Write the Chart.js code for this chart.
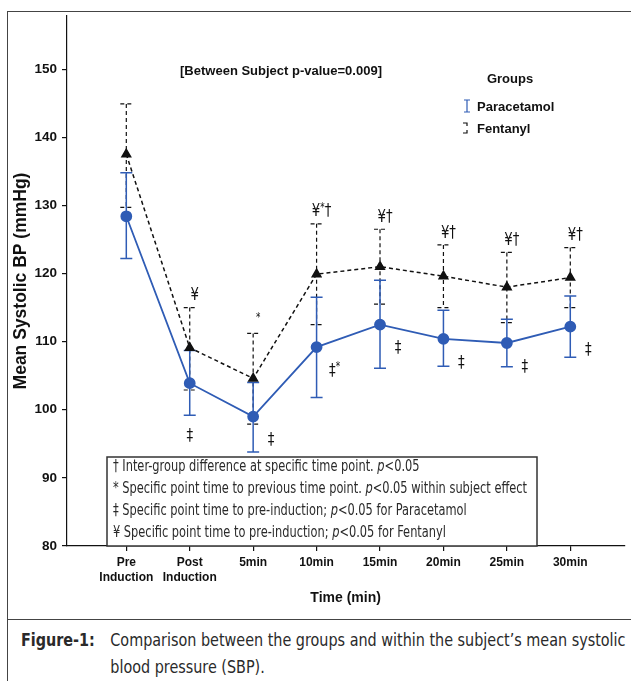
<!DOCTYPE html>
<html>
<head>
<meta charset="utf-8">
<script src="https://cdn.jsdelivr.net/npm/chart.js@4.4.0/dist/chart.umd.min.js"></script>
<style>
  body { margin: 0; background: #fff; }
  #wrap { position: relative; width: 631px; height: 681px; overflow: hidden; }
  #frame { position: absolute; left: 7px; top: 11px; width: 700px; height: 700px;
           border-left: 1.5px solid #444; border-top: 1.5px solid #444; }
  #capLine { position: absolute; left: 7px; top: 619px; width: 700px; border-top: 1.5px solid #444; }
  #chartBox { position: absolute; left: 0; top: 0; width: 631px; height: 620px; }
  #caption { position: absolute; left: 21px; top: 627px; display: flex; white-space: nowrap;
             transform: scaleX(0.94); transform-origin: left top;
             font: 17px 'DejaVu Sans Condensed', sans-serif; line-height: 27px; color: #2a2a2a; }
  #caption b { width: 95px; flex: none; }
</style>
</head>
<body>
<div id="wrap">
  <div id="frame"></div>
  <div id="capLine"></div>
  <div id="chartBox"><canvas id="sbpChart" width="631" height="620"></canvas></div>
  <div id="caption"><b>Figure-1:</b><span>Comparison between the groups and within the subject’s mean systolic<br>blood pressure (SBP).</span></div>
</div>
<script>
// time points on the x axis
var timePoints = [["Pre", "Induction"], ["Post", "Induction"], "5min", "10min", "15min", "20min", "25min", "30min"];

// Paracetamol group (mean and error bar ends)
var paraMean = [128.4, 103.9, 99.0, 109.2, 112.5, 110.4, 109.8, 112.2];
var paraLow  = [122.2, 99.2, 93.8, 101.8, 106.1, 106.4, 106.3, 107.7];
var paraHigh = [134.8, 108.7, 104.0, 116.5, 119.0, 114.6, 113.3, 116.7];

// Fentanyl group
var fentMean = [137.5, 109.1, 104.6, 119.9, 121.0, 119.6, 118.0, 119.4];
var fentLow  = [129.7, 102.9, 97.9, 112.5, 115.5, 115.0, 112.8, 115.0];
var fentHigh = [144.9, 115.0, 111.2, 127.3, 126.5, 124.2, 123.1, 123.8];

// significance marks
var fentMarks = ["", "¥", "*", "¥*†", "¥†", "¥†", "¥†", "¥†"];
var paraMarks = ["", "‡", "‡", "‡*", "‡", "‡", "‡", "‡"];

var yTicks = [80, 90, 100, 110, 120, 130, 140, 150];

var BLUE = "#2f5cb5";
var ARIAL = "'Liberation Sans', Arial, sans-serif";
var COND = "'DejaVu Sans Condensed', sans-serif";

function toPoints(values) {
  return values.map(function (v, i) { return { x: i, y: v }; });
}

// error bars, drawn under the lines
var errorBars = {
  id: "errorBars",
  beforeDatasetsDraw: function (chart) {
    var ctx = chart.ctx, x = chart.scales.x, y = chart.scales.y;
    function bar(i, lo, hi, color, dash, width) {
      var px = x.getPixelForValue(i), top = y.getPixelForValue(hi), bot = y.getPixelForValue(lo);
      ctx.save();
      ctx.strokeStyle = color;
      ctx.lineWidth = width;
      ctx.setLineDash(dash);
      ctx.beginPath();
      ctx.moveTo(px, top); ctx.lineTo(px, bot);
      ctx.moveTo(px - 6, top); ctx.lineTo(px + 6, top);
      ctx.moveTo(px - 6, bot); ctx.lineTo(px + 6, bot);
      ctx.stroke();
      ctx.restore();
    }
    timePoints.forEach(function (_, i) {
      bar(i, fentLow[i], fentHigh[i], "#111", [4, 3], 1.2);
      bar(i, paraLow[i], paraHigh[i], BLUE, [], 1.5);
    });
  }
};

function drawMark(ctx, text, px, py) {
  // '*' is set small and raised; glyphs squeezed a little
  var sx = 0.82, w = 0;
  ctx.save();
  ctx.fillStyle = "#111";
  ctx.textBaseline = "middle";
  ctx.textAlign = "left";
  function fontFor(ch) { return ch === "*" ? "12px " + COND : "18px " + COND; }
  text.split("").forEach(function (ch) {
    ctx.font = fontFor(ch);
    w += ctx.measureText(ch).width;
  });
  ctx.translate(px - w * sx / 2, py);
  ctx.scale(sx, 1);
  var cx = 0;
  text.split("").forEach(function (ch) {
    ctx.font = fontFor(ch);
    ctx.fillText(ch, cx, ch === "*" ? -4 : 0);
    cx += ctx.measureText(ch).width;
  });
  ctx.restore();
}

var marks = {
  id: "marks",
  afterDatasetsDraw: function (chart) {
    var ctx = chart.ctx, x = chart.scales.x, y = chart.scales.y;
    timePoints.forEach(function (_, i) {
      var px = x.getPixelForValue(i);
      if (fentMarks[i]) drawMark(ctx, fentMarks[i], px + 5, y.getPixelForValue(fentHigh[i]) - 12);
      if (paraMarks[i]) {
        if (i === 1) drawMark(ctx, paraMarks[i], px, y.getPixelForValue(paraLow[i]) + 21);
        else drawMark(ctx, paraMarks[i], px + 18, y.getPixelForValue(paraMean[i]) + 24);
      }
    });
  }
};

var notes = [
  [["† Inter-group difference at specific time point. ", 0], ["p", 1], ["<0.05", 0]],
  [["* Specific point time to previous time point. ", 0], ["p", 1], ["<0.05 within subject effect", 0]],
  [["‡ Specific point time to pre-induction; ", 0], ["p", 1], ["<0.05 for Paracetamol", 0]],
  [["¥ Specific point time to pre-induction; ", 0], ["p", 1], ["<0.05 for Fentanyl", 0]]
];

var extras = {
  id: "extras",
  afterDraw: function (chart) {
    var ctx = chart.ctx;
    ctx.save();
    ctx.fillStyle = "#111";
    ctx.textBaseline = "middle";

    // subtitle
    ctx.textAlign = "center";
    ctx.font = "bold 13px " + ARIAL;
    ctx.fillText("[Between Subject p-value=0.009]", 281, 71);

    // legend
    ctx.fillText("Groups", 510, 79);
    ctx.textAlign = "left";
    chart.data.datasets.forEach(function (ds, k) {
      var ly = 107 + k * 22;
      ctx.fillStyle = "#111";
      ctx.fillText(ds.label, 477, ly);
      ctx.strokeStyle = ds.borderColor;
      ctx.lineWidth = 1.2;
      ctx.beginPath();
      if (k === 0) {
        ctx.moveTo(467, ly - 7); ctx.lineTo(467, ly + 5);
        ctx.moveTo(464, ly - 7); ctx.lineTo(470, ly - 7);
        ctx.moveTo(464, ly + 5); ctx.lineTo(470, ly + 5);
      } else {
        ctx.moveTo(463, ly - 6); ctx.lineTo(467, ly - 6); ctx.lineTo(467, ly - 3);
        ctx.moveTo(467, ly + 1); ctx.lineTo(467, ly + 4); ctx.lineTo(463, ly + 4);
      }
      ctx.stroke();
    });

    // footnote box
    ctx.fillStyle = "#fff";
    ctx.fillRect(107, 457, 430, 89);
    ctx.strokeStyle = "#333";
    ctx.lineWidth = 1.5;
    ctx.strokeRect(107, 457, 430, 89);
    ctx.fillStyle = "#2a2a2a";

    // squeeze the lines so the widest one fits like the original
    function lineWidth(line) {
      return line.reduce(function (sum, seg) {
        ctx.font = (seg[1] ? "italic " : "") + "15.5px " + COND;
        return sum + ctx.measureText(seg[0]).width;
      }, 0);
    }
    var sx = 414 / lineWidth(notes[1]);
    notes.forEach(function (line, r) {
      ctx.save();
      ctx.translate(113, 467 + r * 22);
      ctx.scale(sx, 1);
      var tx = 0;
      line.forEach(function (seg) {
        ctx.font = (seg[1] ? "italic " : "") + "15.5px " + COND;
        ctx.fillText(seg[0], tx, 0);
        tx += ctx.measureText(seg[0]).width;
      });
      ctx.restore();
    });
    ctx.restore();
  }
};

var ctx = document.getElementById("sbpChart").getContext("2d");

var sbpChart = new Chart(ctx, {
  type: "line",
  data: {
    datasets: [
      {
        label: "Paracetamol",
        data: toPoints(paraMean),
        borderColor: BLUE,
        backgroundColor: BLUE,
        borderWidth: 1.8,
        pointStyle: "circle",
        pointRadius: 5,
        pointHoverRadius: 5
      },
      {
        label: "Fentanyl",
        data: toPoints(fentMean),
        borderColor: "#111",
        backgroundColor: "#111",
        borderWidth: 1.5,
        borderDash: [4, 3],
        pointStyle: "triangle",
        pointRadius: 5,
        pointHoverRadius: 5
      }
    ]
  },
  options: {
    responsive: false,
    animation: false,
    layout: { padding: { left: 10, top: 16, right: 0, bottom: 0 } },
    plugins: {
      legend: { display: false },
      tooltip: { enabled: false }
    },
    scales: {
      x: {
        type: "linear",
        min: -0.935,
        max: 7.85,
        afterBuildTicks: function (scale) {
          scale.ticks = timePoints.map(function (_, i) { return { value: i }; });
        },
        afterFit: function (scale) { scale.height = 74; },
        ticks: {
          autoSkip: false,
          maxRotation: 0,
          padding: 4,
          color: "#111",
          font: { family: ARIAL, size: 12, weight: "bold", lineHeight: 1.25 },
          callback: function (v) { return timePoints[v]; }
        },
        grid: { drawOnChartArea: false, drawTicks: true, tickLength: 5, color: "#111", lineWidth: 1.2 },
        border: { display: true, color: "#111", width: 1.2 },
        title: {
          display: true,
          text: "Time (min)",
          color: "#111",
          font: { family: ARIAL, size: 14, weight: "bold" },
          padding: { top: 0, bottom: 13 }
        }
      },
      y: {
        min: 80,
        max: 157.8,
        afterBuildTicks: function (scale) {
          scale.ticks = yTicks.map(function (v) { return { value: v }; });
        },
        afterFit: function (scale) { scale.width = 57; },
        ticks: {
          padding: 5,
          color: "#111",
          font: { family: ARIAL, size: 13.5, weight: "bold" }
        },
        grid: { drawOnChartArea: false, drawTicks: true, tickLength: 5, color: "#111", lineWidth: 1.2 },
        border: { display: true, color: "#111", width: 1.2 },
        title: {
          display: true,
          text: "Mean Systolic BP (mmHg)",
          color: "#111",
          font: { family: ARIAL, size: 17.5, weight: "bold" },
          padding: { top: 1, bottom: 0 }
        }
      }
    }
  },
  plugins: [errorBars, marks, extras]
});
</script>
</body>
</html>
